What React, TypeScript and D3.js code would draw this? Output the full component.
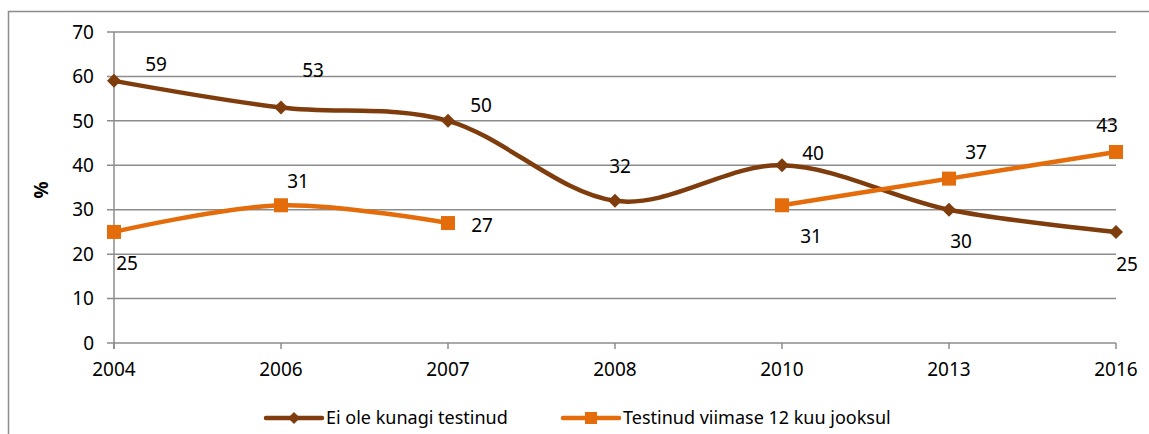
import React from 'react'
import * as d3 from 'd3'

const years = ['2004', '2006', '2007', '2008', '2010', '2013', '2016']
const neverTested: (number | null)[] = [59, 53, 50, 32, 40, 30, 25]
const testedLastYear: (number | null)[] = [25, 31, 27, null, 31, 37, 43]
const yTicks = [0, 10, 20, 30, 40, 50, 60, 70]
const seriesNames = ['Ei ole kunagi testinud', 'Testinud viimase 12 kuu jooksul']

// label offsets per point (dx, dy relative to the marker)
const neverOffsets = [[42, -17], [32, -37], [33, -16], [5, -34], [31, -12], [12, 32], [11, 32]]
const testedOffsets = [[13, 31], [17, -24], [34, 2], [0, 0], [29, 31], [27, -26], [-9, -27]]

const font = '"Noto Sans", "DejaVu Sans", sans-serif'
const brown = '#7f3c0c'
const orange = '#e46c0a'
const grid = '#8c8c8c'

const W = 1149
const H = 434

const App = () => {
    const x = d3.scalePoint<string>().domain(years).range([114, 1116]).padding(0)
    const y = d3.scaleLinear().domain([0, 70]).range([343, 32])

    const line = d3.line<number | null>()
        .defined((d) => d !== null)
        .x((_, i) => x(years[i]) as number)
        .y((d) => y(d as number))
        .curve(d3.curveCardinal.tension(0))

    const diamond = (cx: number, cy: number, r: number) =>
        `M${cx},${cy - r}L${cx + r},${cy}L${cx},${cy + r}L${cx - r},${cy}Z`

    return (
        <svg width={W} height={H} style={{ position: 'absolute', left: 0, top: 0, fontFamily: font }}>
            <rect x={8.5} y={11.5} width={W + 10} height={H + 10} fill="white" stroke={grid} strokeWidth={1.5} />
            {yTicks.map((t) => (
                <g key={t}>
                    <line x1={107} x2={1116} y1={y(t)} y2={y(t)} stroke={grid} strokeWidth={1.5} />
                    <text x={94} y={y(t)} dy="0.35em" textAnchor="end" fontSize={19} fill="#000">{t}</text>
                </g>
            ))}
            <line x1={114} x2={114} y1={y(70)} y2={y(0) + 6} stroke={grid} strokeWidth={1.5} />
            {years.map((yr) => (
                <g key={yr}>
                    <line x1={x(yr)} x2={x(yr)} y1={y(0)} y2={y(0) + 6} stroke={grid} strokeWidth={1.5} />
                    <text x={x(yr)} y={376} textAnchor="middle" fontSize={19} fill="#000">{yr}</text>
                </g>
            ))}
            <text transform={`translate(48, 190) rotate(-90)`} textAnchor="middle" fontSize={19} fontWeight="bold">%</text>

            <path d={line(neverTested) || ''} fill="none" stroke={brown} strokeWidth={4.5} />
            <path d={line(testedLastYear) || ''} fill="none" stroke={orange} strokeWidth={4.5} />

            {neverTested.map((v, i) => v === null ? null : (
                <g key={'n' + i}>
                    <path d={diamond(x(years[i]) as number, y(v), 7)} fill={brown} />
                    <text x={(x(years[i]) as number) + neverOffsets[i][0]} y={y(v) + neverOffsets[i][1]} dy="0.35em" textAnchor="middle" fontSize={19}>{v}</text>
                </g>
            ))}
            {testedLastYear.map((v, i) => v === null ? null : (
                <g key={'t' + i}>
                    <rect x={(x(years[i]) as number) - 7} y={y(v) - 7} width={14} height={14} fill={orange} />
                    <text x={(x(years[i]) as number) + testedOffsets[i][0]} y={y(v) + testedOffsets[i][1]} dy="0.35em" textAnchor="middle" fontSize={19}>{v}</text>
                </g>
            ))}

            <g transform="translate(266, 418)">
                <line x1={0} x2={56} y1={0} y2={0} stroke={brown} strokeWidth={4.5} strokeLinecap="round" />
                <path d={diamond(28, 0, 6)} fill={brown} />
                <text x={60} y={0} dy="0.35em" fontSize={18}>{seriesNames[0]}</text>
            </g>
            <g transform="translate(563, 418)">
                <line x1={0} x2={56} y1={0} y2={0} stroke={orange} strokeWidth={4.5} strokeLinecap="round" />
                <rect x={22} y={-6} width={12} height={12} fill={orange} />
                <text x={60} y={0} dy="0.35em" fontSize={18}>{seriesNames[1]}</text>
            </g>
        </svg>
    )
}

export default App
